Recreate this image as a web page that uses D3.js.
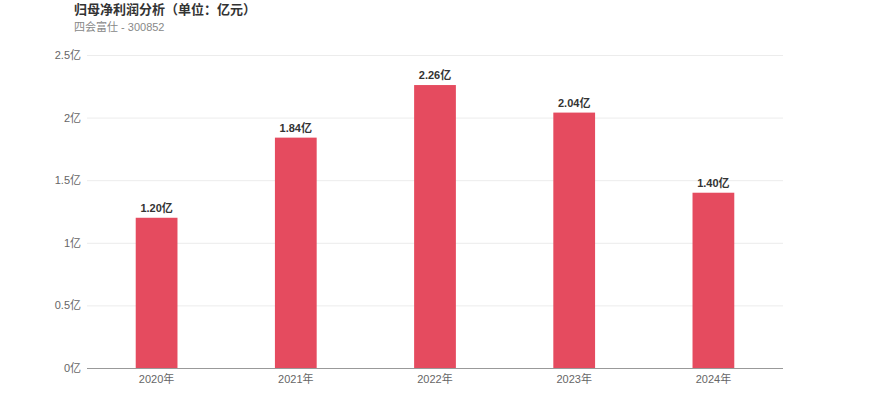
<script src="https://d3js.org/d3.v7.min.js"></script>
<style>
    body { margin: 0; background: #fff; }
    text { font-family: "Liberation Sans", "Noto Sans CJK SC", sans-serif; }
</style>
<div id="chart"></div>
<script>
    const width = 870;
    const height = 417;

    const years = ["2020年", "2021年", "2022年", "2023年", "2024年"];
    const profits = [1.20, 1.84, 2.26, 2.04, 1.40];
    const yTicks = [0, 0.5, 1, 1.5, 2, 2.5];

    const margin = {left: 87, right: 87, top: 55, bottom: 49};

    const svg = d3.select("#chart")
        .append("svg")
        .attr("width", width)
        .attr("height", height);

    // Title and subtitle
    svg.append("text")
        .attr("x", 74)
        .attr("y", 14)
        .attr("font-size", 13)
        .attr("font-weight", "bold")
        .attr("fill", "#333")
        .text("归母净利润分析（单位：亿元）");

    svg.append("text")
        .attr("x", 74)
        .attr("y", 31)
        .attr("font-size", 11)
        .attr("fill", "#888")
        .text("四会富仕 - 300852");

    const x = d3.scaleBand()
        .domain(years)
        .range([margin.left, width - margin.right])
        .paddingInner(0)
        .paddingOuter(0);

    const y = d3.scaleLinear()
        .domain([0, 2.5])
        .range([height - margin.bottom, margin.top]);

    // Grid lines
    svg.selectAll(".grid")
        .data(yTicks.filter(d => d > 0))
        .enter()
        .append("line")
        .attr("x1", margin.left)
        .attr("x2", width - margin.right)
        .attr("y1", d => y(d) + 0.5)
        .attr("y2", d => y(d) + 0.5)
        .attr("stroke", "#ececec");

    // Y tick labels
    svg.selectAll(".ylabel")
        .data(yTicks)
        .enter()
        .append("text")
        .attr("x", margin.left - 6)
        .attr("y", d => y(d) + 4)
        .attr("text-anchor", "end")
        .attr("font-size", 11)
        .attr("fill", "#666")
        .text(d => d + "亿");

    // Bars
    const barWidth = x.bandwidth() * 0.3;
    svg.selectAll("rect")
        .data(profits)
        .enter()
        .append("rect")
        .attr("x", (d, i) => x(years[i]) + (x.bandwidth() - barWidth) / 2)
        .attr("y", d => y(d))
        .attr("width", barWidth)
        .attr("height", d => y(0) - y(d))
        .attr("fill", "#e54b5f");

    // Value labels
    svg.selectAll(".vlabel")
        .data(profits)
        .enter()
        .append("text")
        .attr("x", (d, i) => x(years[i]) + x.bandwidth() / 2)
        .attr("y", d => y(d) - 6)
        .attr("text-anchor", "middle")
        .attr("font-size", 11)
        .attr("font-weight", "bold")
        .attr("fill", "#333")
        .text(d => d.toFixed(2) + "亿");

    // Bottom axis line
    svg.append("line")
        .attr("x1", margin.left)
        .attr("x2", width - margin.right)
        .attr("y1", y(0) + 0.5)
        .attr("y2", y(0) + 0.5)
        .attr("stroke", "#999");

    // X labels
    svg.selectAll(".xlabel")
        .data(years)
        .enter()
        .append("text")
        .attr("x", d => x(d) + x.bandwidth() / 2)
        .attr("y", y(0) + 15)
        .attr("text-anchor", "middle")
        .attr("font-size", 11)
        .attr("fill", "#666")
        .text(d => d);
</script>
